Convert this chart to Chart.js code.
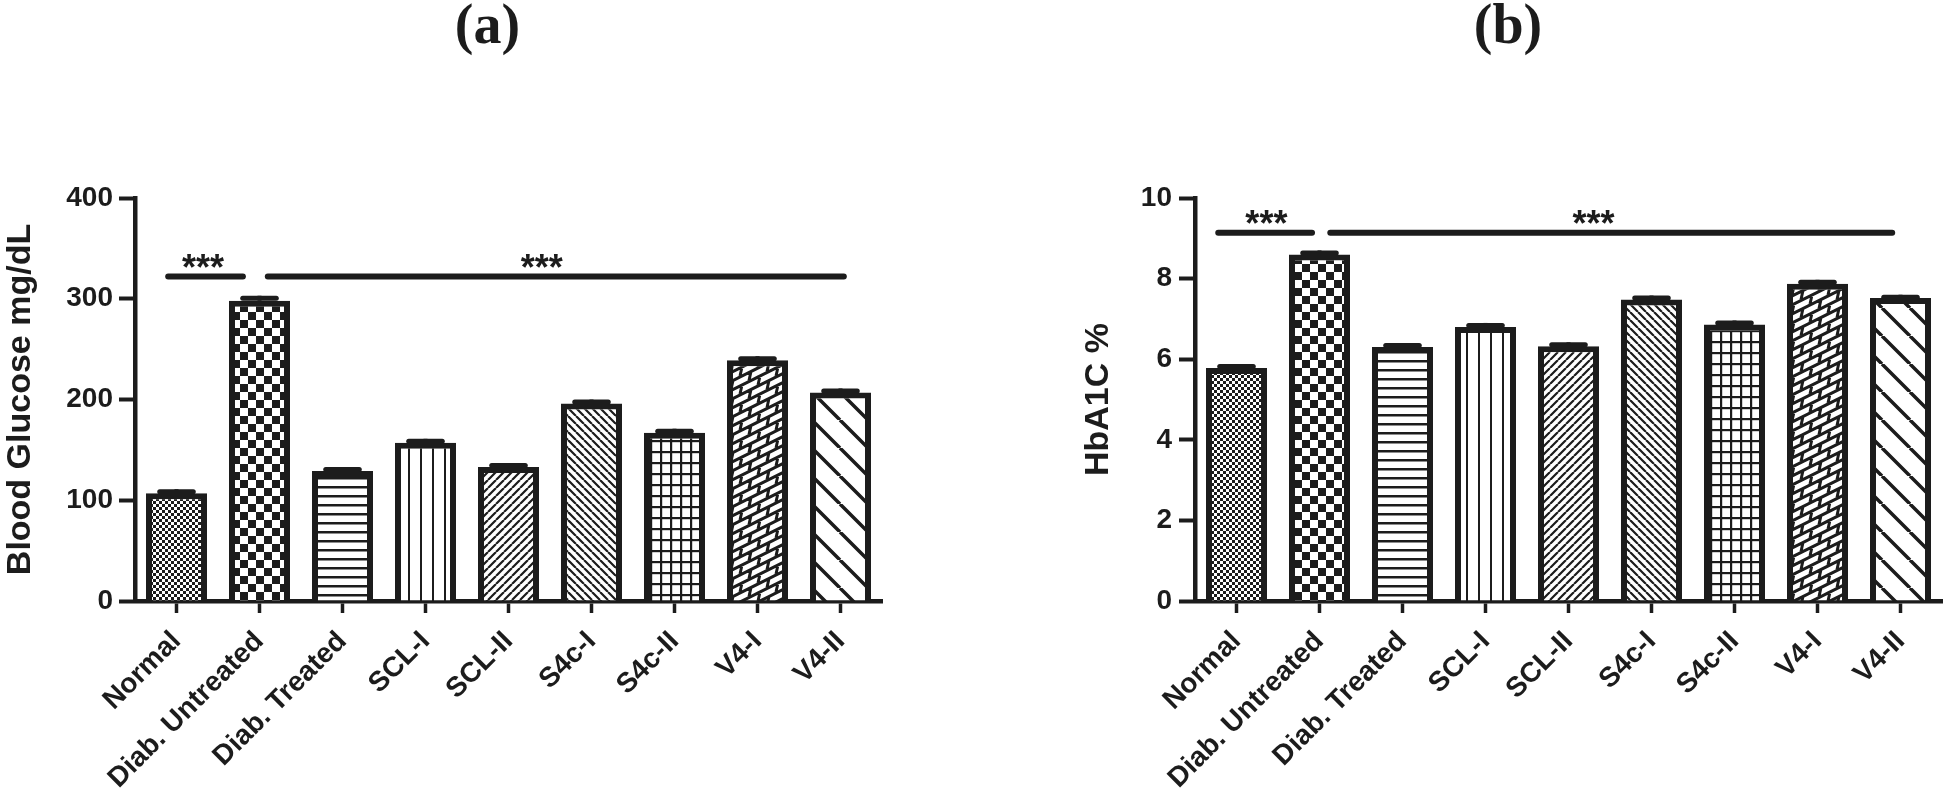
<!DOCTYPE html>
<html>
<head>
<meta charset="utf-8">
<script src="https://cdn.jsdelivr.net/npm/chart.js@4.4.1/dist/chart.umd.min.js"></script>
<style>
html, body { margin: 0; padding: 0; background: #fff; }
body { width: 1946px; height: 802px; position: relative; overflow: hidden; }
.box { position: absolute; top: 0; height: 802px; }
</style>
</head>
<body>
<div class="box" style="left:0;width:975px"><canvas id="chartA"></canvas></div>
<div class="box" style="left:1070px;width:876px"><canvas id="chartB"></canvas></div>
<script>
// groups on the x axis, same for both panels
var groups = ["Normal", "Diab. Untreated", "Diab. Treated", "SCL-I", "SCL-II", "S4c-I", "S4c-II", "V4-I", "V4-II"];

// (a) blood glucose, mg/dL
var glucose = [107, 298, 129, 157, 133, 196, 167, 239, 207];
var glucoseErr = [4, 5, 4, 4, 4, 4, 4, 4, 4];
var glucoseTicks = [0, 100, 200, 300, 400];
// significance bars: [from group, to group, level, stars at group, label]
var glucoseSig = [[-0.1, 0.8, 322, 0.32, "***"], [1.1, 8.04, 322, 4.4, "***"]];

// (b) HbA1C %
var hba1c = [5.78, 8.6, 6.3, 6.8, 6.32, 7.48, 6.86, 7.87, 7.52];
var hba1cErr = [0.1, 0.1, 0.1, 0.1, 0.1, 0.1, 0.1, 0.1, 0.08];
var hba1cTicks = [0, 2, 4, 6, 8, 10];
var hba1cSig = [[-0.22, 0.91, 9.14, 0.36, "***"], [1.13, 7.9, 9.14, 4.3, "***"]];

var ink = "#1c1c1c";
var fills = ["dots", "checker", "hlines", "vlines", "fwd", "back", "grid", "brick", "wide"];

function makePattern(ctx, kind) {
    var c = document.createElement("canvas");
    var g = c.getContext("2d");
    function tile(w, h) {
        c.width = w; c.height = h;
        g.fillStyle = "#fff"; g.fillRect(0, 0, w, h);
        g.fillStyle = ink; g.strokeStyle = ink;
    }
    function diag(t, lw, back) {
        tile(t, t);
        g.lineWidth = lw;
        g.beginPath();
        for (var k = -1; k <= 1; k++) {
            if (back) { g.moveTo(k * t, 0); g.lineTo(k * t + t, t); }
            else { g.moveTo(k * t, t); g.lineTo(k * t + t, 0); }
        }
        g.stroke();
    }
    switch (kind) {
        case "dots": tile(6, 6); g.fillRect(0, 0, 3, 3); g.fillRect(3, 3, 3, 3); break;
        case "checker": tile(16, 16); g.fillRect(0, 0, 8, 8); g.fillRect(8, 8, 8, 8); break;
        case "hlines": tile(8, 9); g.fillRect(0, 0, 8, 2.5); break;
        case "vlines": tile(12, 8); g.fillRect(0, 0, 2, 8); break;
        case "fwd": diag(8, 2.2, false); break;
        case "back": diag(8, 2.2, true); break;
        case "grid": tile(10, 11); g.fillRect(0, 0, 10, 2.2); g.fillRect(0, 0, 2.2, 11); break;
        case "brick":
            // slanted brick: rising rows split by short walls, offset every other row
            tile(36, 18);
            g.lineWidth = 3;
            g.beginPath();
            for (var k = -4; k <= 8; k++) {
                var cc = k * 9;
                g.moveTo(-10, cc + 5); g.lineTo(46, cc - 23);
                var xs = (k % 2 === 0) ? [4, 22] : [13, 31];
                xs.forEach(function (xw) {
                    g.moveTo(xw, cc - 0.5 * xw); g.lineTo(xw - 2, cc + 9 - 0.5 * xw);
                });
            }
            g.stroke();
            break;
        case "wide": diag(28, 3.5, true); break;
    }
    return ctx.createPattern(c, "repeat");
}

function errorPlugin(errs) {
    return {
        id: "errbars",
        afterDatasetsDraw: function (chart) {
            var ctx = chart.ctx, y = chart.scales.y, meta = chart.getDatasetMeta(0);
            var vals = chart.data.datasets[0].data;
            ctx.save();
            ctx.strokeStyle = ink;
            meta.data.forEach(function (bar, i) {
                var top = y.getPixelForValue(vals[i] + errs[i]);
                var capW = bar.width * 0.55;
                ctx.lineWidth = 4; ctx.lineCap = "butt";
                ctx.beginPath(); ctx.moveTo(bar.x, bar.y); ctx.lineTo(bar.x, top); ctx.stroke();
                ctx.lineWidth = 5; ctx.lineCap = "round";
                ctx.beginPath(); ctx.moveTo(bar.x - capW / 2, top + 2.5); ctx.lineTo(bar.x + capW / 2, top + 2.5); ctx.stroke();
            });
            ctx.restore();
        }
    };
}

function sigPlugin(marks) {
    return {
        id: "sigbars",
        afterDraw: function (chart) {
            var ctx = chart.ctx, x = chart.scales.x, y = chart.scales.y;
            ctx.save();
            ctx.strokeStyle = ink; ctx.fillStyle = ink;
            ctx.lineWidth = 6; ctx.lineCap = "round";
            ctx.font = 'bold 36px "Liberation Sans", Arial, sans-serif';
            ctx.textAlign = "center"; ctx.textBaseline = "alphabetic";
            marks.forEach(function (m) {
                var x0 = x.getPixelForValue(m[0]), x1 = x.getPixelForValue(m[1]), yy = y.getPixelForValue(m[2]);
                ctx.beginPath(); ctx.moveTo(x0, yy); ctx.lineTo(x1, yy); ctx.stroke();
                ctx.fillText(m[4], x.getPixelForValue(m[3]), yy + 3);
            });
            ctx.restore();
        }
    };
}

function buildChart(id, o) {
    var canvas = document.getElementById(id);
    var ctx = canvas.getContext("2d");
    var patterns = fills.map(function (k) { return makePattern(ctx, k); });
    var sans = '"Liberation Sans", Arial, sans-serif';
    return new Chart(canvas, {
        type: "bar",
        data: {
            labels: groups,
            datasets: [{
                data: o.values,
                backgroundColor: patterns,
                borderColor: ink,
                borderWidth: 6,
                categoryPercentage: 1,
                barPercentage: 0.735
            }]
        },
        options: {
            responsive: true,
            maintainAspectRatio: false,
            animation: false,
            layout: { padding: { left: 0, right: 0, top: 0, bottom: 0 } },
            plugins: {
                legend: { display: false },
                tooltip: { enabled: false },
                title: {
                    display: true, text: o.title, color: ink,
                    font: { family: '"Liberation Serif", "Times New Roman", serif', size: 56, weight: "bold", lineHeight: 1 },
                    padding: { top: 1, bottom: 141 }
                }
            },
            scales: {
                x: {
                    grid: { display: true, drawOnChartArea: false, offset: false, tickLength: 12, tickWidth: 3.5, tickColor: ink },
                    border: { display: true, color: ink, width: 4.5 },
                    ticks: { color: ink, font: { family: sans, size: 28, weight: "bold" }, minRotation: 45, maxRotation: 45, autoSkip: false, padding: 12 },
                    afterFit: function (s) { s.height = 201; }
                },
                y: {
                    min: o.ticks[0],
                    max: o.ticks[o.ticks.length - 1],
                    ticks: { stepSize: o.ticks[1] - o.ticks[0], color: ink, font: { family: sans, size: 28, weight: "bold" }, padding: o.tickPad },
                    grid: { drawOnChartArea: false, tickLength: 16, tickWidth: 4, tickColor: ink },
                    border: { display: true, color: ink, width: 4.5 },
                    title: {
                        display: true, text: o.yTitle, color: ink,
                        font: { family: sans, size: 34, weight: "bold" },
                        padding: { top: o.titlePad, bottom: 0 }
                    },
                    afterFit: function (s) { s.width = o.axisWidth; }
                },
                // empty box on the right, keeps the panel letter centred over the whole panel
                spare: {
                    type: "linear", position: "right", display: true,
                    grid: { display: false }, border: { display: false }, ticks: { display: false },
                    afterFit: function (s) { s.width = o.spareWidth; }
                }
            }
        },
        plugins: [errorPlugin(o.errors), sigPlugin(o.marks)]
    });
}

buildChart("chartA", {
    title: "(a)", yTitle: "Blood Glucose mg/dL",
    values: glucose, errors: glucoseErr, ticks: glucoseTicks, marks: glucoseSig,
    spareWidth: 93, axisWidth: 135, tickPad: 6, titlePad: 0
});
buildChart("chartB", {
    title: "(b)", yTitle: "HbA1C %",
    values: hba1c, errors: hba1cErr, ticks: hba1cTicks, marks: hba1cSig,
    spareWidth: 4, axisWidth: 125, tickPad: 7, titlePad: 8
});
</script>
</body>
</html>
